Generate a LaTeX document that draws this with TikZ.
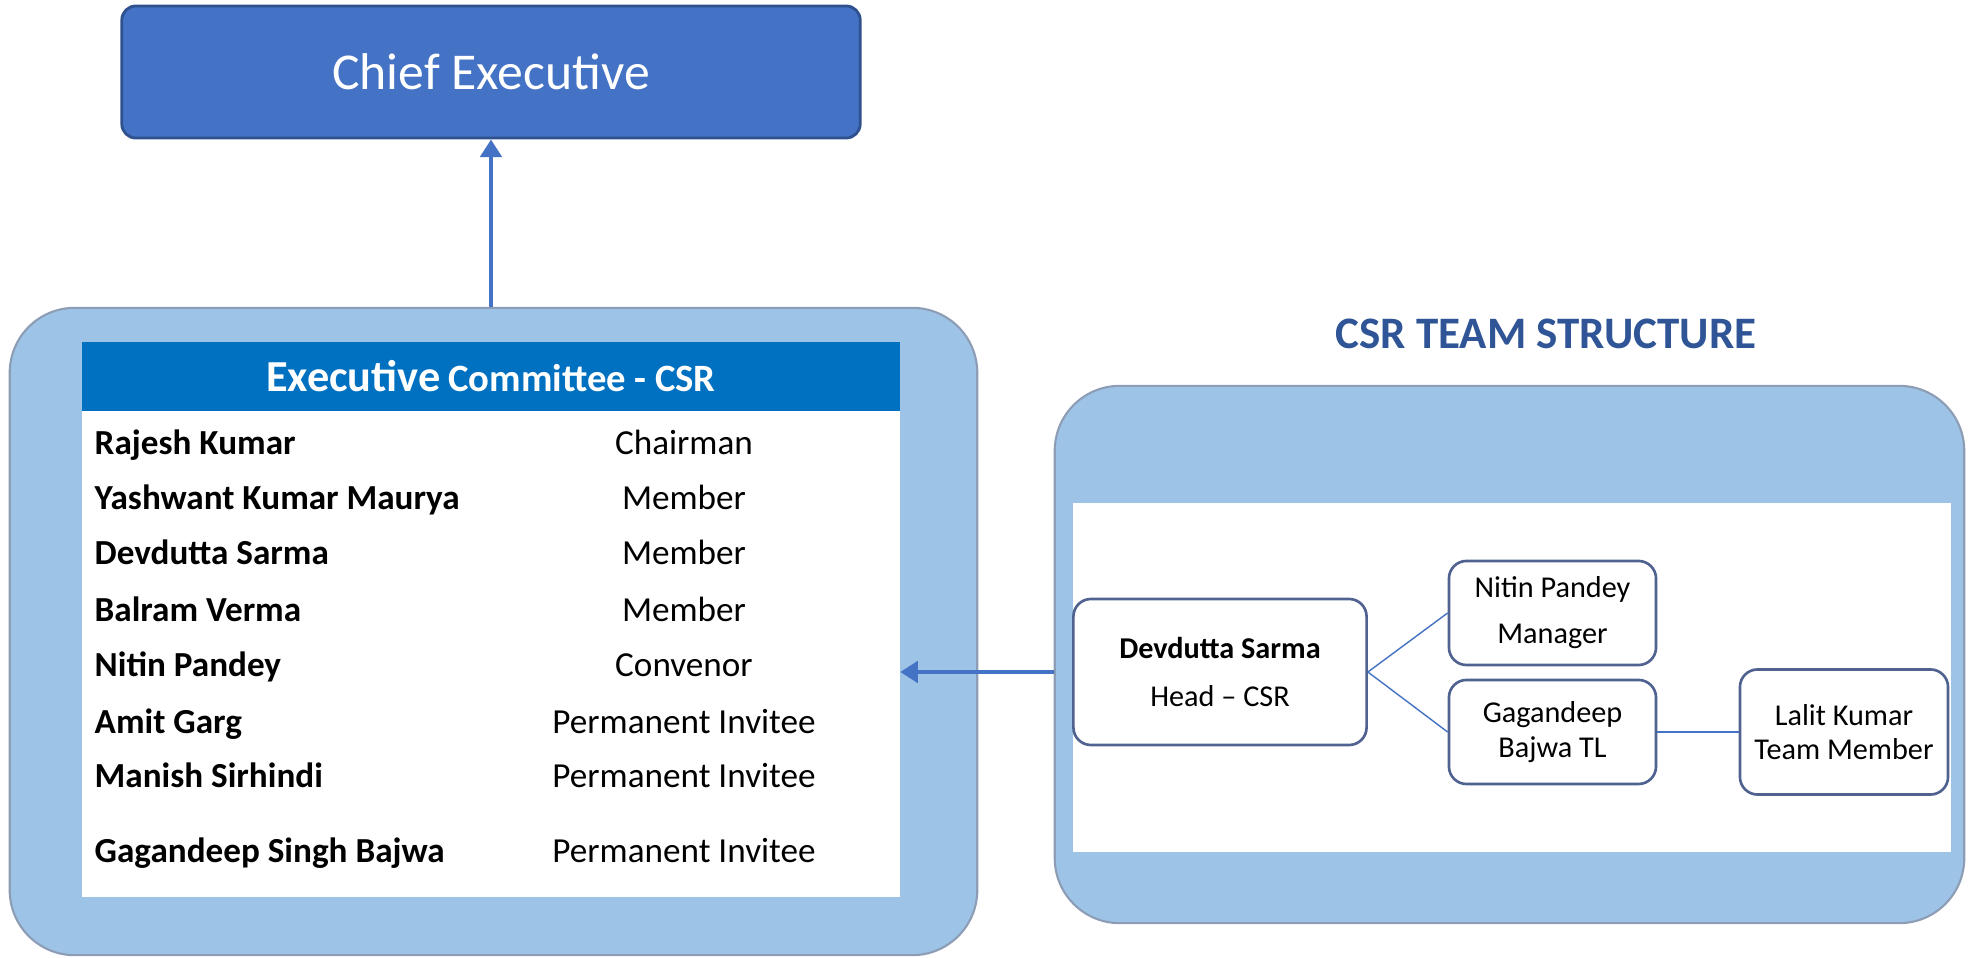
\documentclass[tikz,border=0pt]{standalone}
\usepackage{fontspec}
\setmainfont{Carlito}
\usepackage{xcolor}
\usetikzlibrary{positioning, arrows.meta}

\definecolor{chiefblue}{HTML}{4472C4}
\definecolor{chiefline}{HTML}{2F528F}
\definecolor{panelblue}{HTML}{9DC3E6}
\definecolor{panelline}{HTML}{8C9DB5}
\definecolor{headblue}{HTML}{0070C0}
\definecolor{titleblue}{HTML}{2F5597}
\definecolor{boxline}{HTML}{4F6290}

\begin{document}
\begin{tikzpicture}[x=0.01cm, y=-0.01cm,
            % --- Styles for the boxes ---
            chief/.style={
                draw=chiefline, fill=chiefblue, line width=0.8pt, rounded corners=4pt,
                minimum width=7.38cm, minimum height=1.32cm, text=white,
                font=\fontsize{14.7}{17}\selectfont
            },
            panel/.style={draw=panelline, fill=panelblue, line width=0.6pt, rounded corners=0.65cm},
            sheet/.style={fill=white, inner sep=0pt, outer sep=0pt},
            band/.style={sheet, fill=headblue, text=white, font=\bfseries},
            person/.style={
                draw=boxline, fill=white, line width=0.75pt, rounded corners=5pt,
                align=center, inner sep=0pt, font=\fontsize{8.6}{9.8}\selectfont
            },
            member/.style={anchor=west, inner sep=0pt, text height=0.7em, text depth=0.2em, font=\fontsize{10}{12}\selectfont\bfseries},
            duty/.style={inner sep=0pt, text height=0.7em, text depth=0.2em, font=\fontsize{10}{12}\selectfont},
            title/.style={font=\fontsize{12.8}{15}\selectfont\bfseries, text=titleblue},
            link/.style={draw=chiefblue, line width=0.4pt},
            arr/.style={draw=chiefblue, line width=1.25pt, -{Triangle[length=5pt, width=6pt]}}
        ]

        \useasboundingbox (0,0) rectangle (1974,958);

        % --- Chief Executive ---
        \node[chief] (chief) at (491,72) {Chief Executive};

        % --- Executive Committee panel ---
        \node[panel, minimum width=9.67cm, minimum height=6.47cm] (leftpanel) at (493.5,631.5) {};
        \node[sheet, minimum width=8.18cm, minimum height=5.55cm] (table) at (491,619.5) {};
        \node[band, minimum width=8.18cm, minimum height=0.68cm] (band) at (491,376.5)
            {{\fontsize{12.6}{15}\selectfont Executive} {\fontsize{11}{13}\selectfont Committee - CSR}};

        % --- Members and their roles ---
        \foreach \who/\what/\y [count=\i from 1] in {
            Rajesh Kumar/Chairman/446,
            Yashwant Kumar Maurya/Member/501,
            Devdutta Sarma/Member/556,
            Balram Verma/Member/613,
            Nitin Pandey/Convenor/668,
            Amit Garg/Permanent Invitee/725,
            Manish Sirhindi/Permanent Invitee/779,
            Gagandeep Singh Bajwa/Permanent Invitee/854} {
            \node[member] (who\i) at (94,\y) {\who};
            \node[duty] (what\i) at (684,\y) {\what};
        }

        % --- CSR team panel ---
        \node[title] (teamtitle) at (1546,334) {CSR TEAM STRUCTURE};
        \node[panel, minimum width=9.09cm, minimum height=5.37cm] (teampanel) at (1509.5,654.5) {};
        \node[sheet, minimum width=8.78cm, minimum height=3.49cm] (teamsheet) at (1512,677.5) {};

        \node[person, minimum width=2.93cm, minimum height=1.46cm] (head) at (1220,672)
            {\textbf{Devdutta Sarma}\\[4pt]Head – CSR};
        \node[person, minimum width=2.07cm, minimum height=1.04cm] (nitin) at (1552.5,613)
            {Nitin Pandey\\[3.3pt]Manager};
        \node[person, minimum width=2.07cm, minimum height=1.04cm] (gagan) at (1552.5,732)
            {Gagandeep\\Bajwa TL};
        \node[person, minimum width=2.08cm, minimum height=1.25cm] (lalit) at (1844,732)
            {Lalit Kumar\\Team Member};

        % --- Connectors ---
        \draw[link] (head.east) -- (nitin.west);
        \draw[link] (head.east) -- (gagan.west);
        \draw[link] (gagan.east) -- (lalit.west);

        \draw[arr] (chief.south |- leftpanel.north) -- (chief.south);
        \draw[arr] (teampanel.west |- head.west) -- (table.east |- head.west);

        \end{tikzpicture}
\end{document}
